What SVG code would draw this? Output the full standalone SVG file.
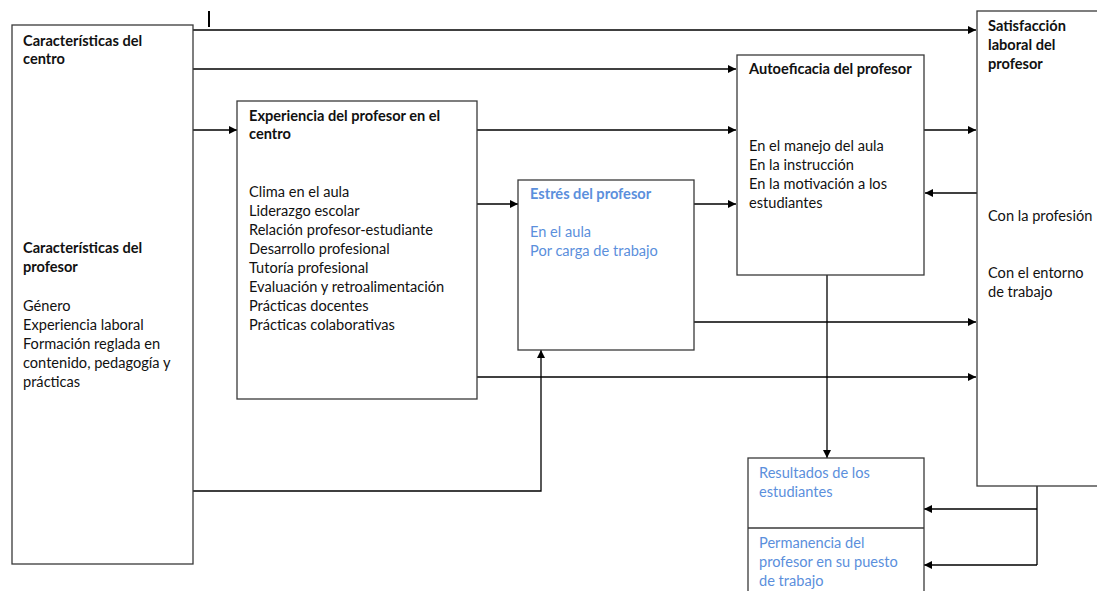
<svg xmlns="http://www.w3.org/2000/svg" width="1097" height="591" viewBox="0 0 1097 591">
<defs>
<marker id="ah" viewBox="0 0 10 10" refX="10" refY="5" markerWidth="8" markerHeight="8" markerUnits="userSpaceOnUse" orient="auto">
<path d="M0,0 L10,5 L0,10 z" fill="#000"/>
</marker>
<style>
.box{fill:#fff;stroke:#3a3a3a;stroke-width:1.3}
.t{font-family:Lato,"Liberation Sans",sans-serif;font-size:14.6px;fill:#111}
.b{font-weight:bold}
.blue{fill:#5b8fdc}
.c{fill:none;stroke:#000;stroke-width:1.3}
.ca{fill:none;stroke:#000;stroke-width:1.3;marker-end:url(#ah)}
</style>
</defs>
<rect width="1097" height="591" fill="#fff"/>
<line x1="209" y1="11" x2="209" y2="27" stroke="#000" stroke-width="2"/>
<g id="connectors">
<path class="ca" d="M193,30 H976"/>
<path class="ca" d="M193,69 H736"/>
<path class="ca" d="M193,130 H237"/>
<path class="ca" d="M477,130 H736"/>
<path class="ca" d="M477,204 H518"/>
<path class="ca" d="M477,377 H976"/>
<path class="ca" d="M193,491 H541 V350"/>
<path class="ca" d="M694,204 H736"/>
<path class="ca" d="M694,322 H976"/>
<path class="ca" d="M924,130 H976"/>
<path class="ca" d="M977,193 H925"/>
<path class="ca" d="M827,275 V458"/>
<path class="c" d="M1037,486 V565"/>
<path class="ca" d="M1037,509 H924"/>
<path class="ca" d="M1037,565 H924"/>
</g>
<g id="caracteristicas">
<rect class="box" x="12" y="25" width="181" height="539"/>
<text class="t b" x="23" y="46">Características del</text>
<text class="t b" x="23" y="64">centro</text>
<text class="t b" x="23" y="253">Características del</text>
<text class="t b" x="23" y="272">profesor</text>
<text class="t" x="23" y="311">Género</text>
<text class="t" x="23" y="330">Experiencia laboral</text>
<text class="t" x="23" y="349">Formación reglada en</text>
<text class="t" x="23" y="368">contenido, pedagogía y</text>
<text class="t" x="23" y="387">prácticas</text>
</g>
<g id="experiencia">
<rect class="box" x="237" y="101" width="240" height="298"/>
<text class="t b" x="249" y="121">Experiencia del profesor en el</text>
<text class="t b" x="249" y="139">centro</text>
<text class="t" x="249" y="197">Clima en el aula</text>
<text class="t" x="249" y="216">Liderazgo escolar</text>
<text class="t" x="249" y="235">Relación profesor-estudiante</text>
<text class="t" x="249" y="254">Desarrollo profesional</text>
<text class="t" x="249" y="273">Tutoría profesional</text>
<text class="t" x="249" y="292">Evaluación y retroalimentación</text>
<text class="t" x="249" y="311">Prácticas docentes</text>
<text class="t" x="249" y="330">Prácticas colaborativas</text>
</g>
<g id="estres">
<rect class="box" x="518" y="180" width="176" height="170"/>
<text class="t b blue" x="530" y="199">Estrés del profesor</text>
<text class="t blue" x="530" y="237">En el aula</text>
<text class="t blue" x="530" y="256">Por carga de trabajo</text>
</g>
<g id="autoeficacia">
<rect class="box" x="737" y="55" width="187" height="220"/>
<text class="t b" x="749" y="74">Autoeficacia del profesor</text>
<text class="t" x="749" y="151">En el manejo del aula</text>
<text class="t" x="749" y="170">En la instrucción</text>
<text class="t" x="749" y="189">En la motivación a los</text>
<text class="t" x="749" y="208">estudiantes</text>
</g>
<g id="satisfaccion">
<rect class="box" x="977" y="11" width="130" height="475"/>
<text class="t b" x="988" y="31">Satisfacción</text>
<text class="t b" x="988" y="50">laboral del</text>
<text class="t b" x="988" y="69">profesor</text>
<text class="t" x="988" y="221">Con la profesión</text>
<text class="t" x="988" y="278">Con el entorno</text>
<text class="t" x="988" y="297">de trabajo</text>
</g>
<g id="resultados">
<rect class="box" x="748" y="458" width="176" height="145"/>
<line x1="748" y1="528" x2="924" y2="528" stroke="#3a3a3a" stroke-width="1.3"/>
<text class="t blue" x="759" y="478">Resultados de los</text>
<text class="t blue" x="759" y="497">estudiantes</text>
<text class="t blue" x="759" y="548">Permanencia del</text>
<text class="t blue" x="759" y="567">profesor en su puesto</text>
<text class="t blue" x="759" y="586">de trabajo</text>
</g>
</svg>
